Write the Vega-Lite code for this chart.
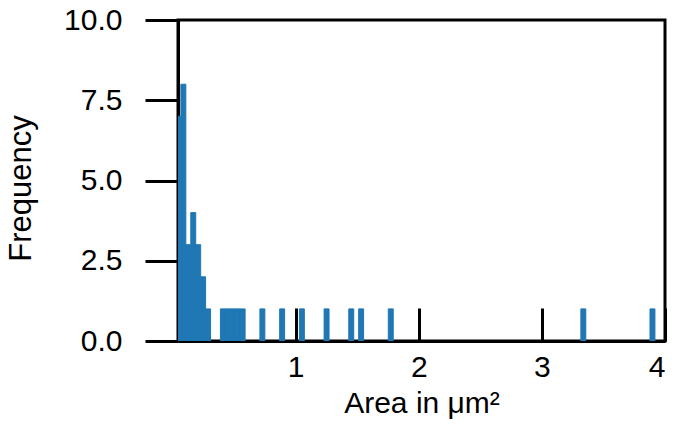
{
  "$schema": "https://vega.github.io/schema/vega-lite/v6.json",
  "autosize": "none",
  "width": 487,
  "height": 321,
  "padding": {"left": 178, "top": 20, "right": 15, "bottom": 95},
  "background": "white",
  "config": {
    "view": {"stroke": "black", "strokeWidth": 3},
    "font": "Liberation Sans"
  },
  "data": {
    "values": [
      {"bin_start": 0.0285, "bin_end": 0.0686, "count": 7},
      {"bin_start": 0.0686, "bin_end": 0.1087, "count": 8},
      {"bin_start": 0.1087, "bin_end": 0.1488, "count": 3},
      {"bin_start": 0.1488, "bin_end": 0.1889, "count": 4},
      {"bin_start": 0.1889, "bin_end": 0.2290, "count": 3},
      {"bin_start": 0.2290, "bin_end": 0.2691, "count": 2},
      {"bin_start": 0.2691, "bin_end": 0.3092, "count": 1},
      {"bin_start": 0.3894, "bin_end": 0.4295, "count": 1},
      {"bin_start": 0.4295, "bin_end": 0.4696, "count": 1},
      {"bin_start": 0.4696, "bin_end": 0.5097, "count": 1},
      {"bin_start": 0.5097, "bin_end": 0.5498, "count": 1},
      {"bin_start": 0.5498, "bin_end": 0.5899, "count": 1},
      {"bin_start": 0.7102, "bin_end": 0.7503, "count": 1},
      {"bin_start": 0.8706, "bin_end": 0.9107, "count": 1},
      {"bin_start": 1.0310, "bin_end": 1.0711, "count": 1},
      {"bin_start": 1.2315, "bin_end": 1.2716, "count": 1},
      {"bin_start": 1.4320, "bin_end": 1.4721, "count": 1},
      {"bin_start": 1.5122, "bin_end": 1.5523, "count": 1},
      {"bin_start": 1.7528, "bin_end": 1.7929, "count": 1},
      {"bin_start": 3.3167, "bin_end": 3.3568, "count": 1},
      {"bin_start": 3.8781, "bin_end": 3.9182, "count": 1}
    ]
  },
  "mark": {"type": "bar", "color": "#1f77b4", "fill": "#1f77b4", "stroke": "#1f77b4", "strokeWidth": 1, "strokeOpacity": 1, "clip": true},
  "encoding": {
    "x": {
      "field": "bin_start",
      "type": "quantitative",
      "scale": {"domain": [0.045, 4.0], "nice": false, "zero": false},
      "axis": {
        "title": "Area in μm²",
        "values": [1, 2, 3, 4],
        "format": "d",
        "grid": false,
        "domainColor": "black",
        "domainWidth": 3,
        "tickColor": "black",
        "tickWidth": 3,
        "tickSize": -33,
        "labelPadding": 44,
        "labelFont": "Liberation Sans",
        "labelFontSize": 30,
        "labelColor": "black",
        "titleFont": "Liberation Sans",
        "titleFontSize": 30,
        "titleFontWeight": "normal",
        "titleColor": "black",
        "titleBaseline": "alphabetic",
        "titleY": 71
      }
    },
    "x2": {"field": "bin_end"},
    "y": {
      "field": "count",
      "type": "quantitative",
      "scale": {"domain": [0, 10], "nice": false},
      "axis": {
        "title": "Frequency",
        "values": [0, 2.5, 5, 7.5, 10],
        "format": ".1f",
        "grid": false,
        "domainColor": "black",
        "domainWidth": 3,
        "tickColor": "black",
        "tickWidth": 3,
        "tickSize": 33,
        "labelPadding": 23,
        "labelFont": "Liberation Sans",
        "labelFontSize": 30,
        "labelColor": "black",
        "titleFont": "Liberation Sans",
        "titleFontSize": 31,
        "titleFontWeight": "normal",
        "titleColor": "black",
        "titleX": -141,
        "titleY": 168
      }
    },
    "y2": {"datum": 0}
  }
}
